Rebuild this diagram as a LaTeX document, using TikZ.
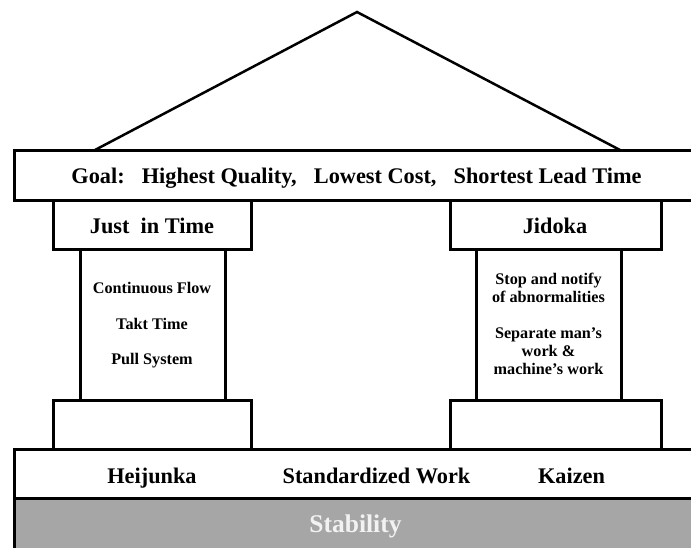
\documentclass[tikz,border=0pt]{standalone}
\usepackage{fontspec}
\setmainfont{Liberation Serif}
\definecolor{stabgray}{HTML}{A6A6A6}
\definecolor{stabtext}{HTML}{F2F2F2}
\begin{document}
\begin{tikzpicture}[x=1pt,y=-1pt,
  box/.style={draw=black, line width=3pt, fill=white, inner sep=0pt, minimum width=#1},
  big/.style={font=\fontsize{22.3}{24}\selectfont\bfseries, text=black, anchor=base, inner sep=0pt},
  small/.style={font=\fontsize{16.2}{18}\selectfont\bfseries, text=black, anchor=base, inner sep=0pt},
  roofline/.style={draw=black, line width=2.5pt, line join=miter}]
\useasboundingbox (0,0) rectangle (691,547);
\clip (0,0) rectangle (691,547);
% roof
\coordinate (roofL) at (95,150);
\coordinate (apex) at (357,12);
\coordinate (roofR) at (620,150);
\draw[roofline] (roofL) -- (apex) -- (roofR);
% columns
\node[box=145pt, minimum height=151pt] (colL) at (152.5,324.5) {};
\node[box=145pt, minimum height=151pt] (colR) at (548.5,324.5) {};
% goal beam
\node[box=691pt, minimum height=50pt] (goal) at (359.5,175) {};
% capitals
\node[box=198pt, minimum height=49pt] (jitbox) at (152,224.5) {};
\node[box=211pt, minimum height=49pt] (jidbox) at (555.5,224.5) {};
% bases
\node[box=198pt, minimum height=49pt] (baseL) at (152,424.5) {};
\node[box=211pt, minimum height=49pt] (baseR) at (555.5,424.5) {};
% foundation
\node[box=691pt, minimum height=49pt] (found) at (359.5,473.5) {};
\node[box=691pt, minimum height=62pt, fill=stabgray] (stab) at (359.5,529) {};
% texts
\node[big] (goaltxt) at (356.5,183) {Goal:\ \ \hspace{6pt}Highest Quality,\ \ \hspace{6pt}Lowest Cost,\ \ \hspace{6pt}Shortest Lead Time};
\node[big] (jit) at (152,233) {Just\ \ in Time};
\node[big] (jid) at (555,233) {Jidoka};
\node[small] (cf) at (152,293) {Continuous Flow};
\node[small] (tt) at (152,329) {Takt Time};
\node[small] (ps) at (152,364.5) {Pull System};
\node[small] (j1) at (548.5,284) {Stop and notify};
\node[small] (j2) at (548.5,302) {of abnormalities};
\node[small] (j3) at (548.5,338) {Separate man’s};
\node[small] (j4) at (548.5,356) {work \&};
\node[small] (j5) at (548.5,374) {machine’s work};
\node[big] (hei) at (152,483) {Heijunka};
\node[big] (std) at (376.5,483) {Standardized Work};
\node[big] (kai) at (571.5,483) {Kaizen};
\node[big, text=stabtext, font=\fontsize{25.5}{28}\selectfont\bfseries] (stabtxt) at (355.5,532.5) {Stability};
\end{tikzpicture}
\end{document}
